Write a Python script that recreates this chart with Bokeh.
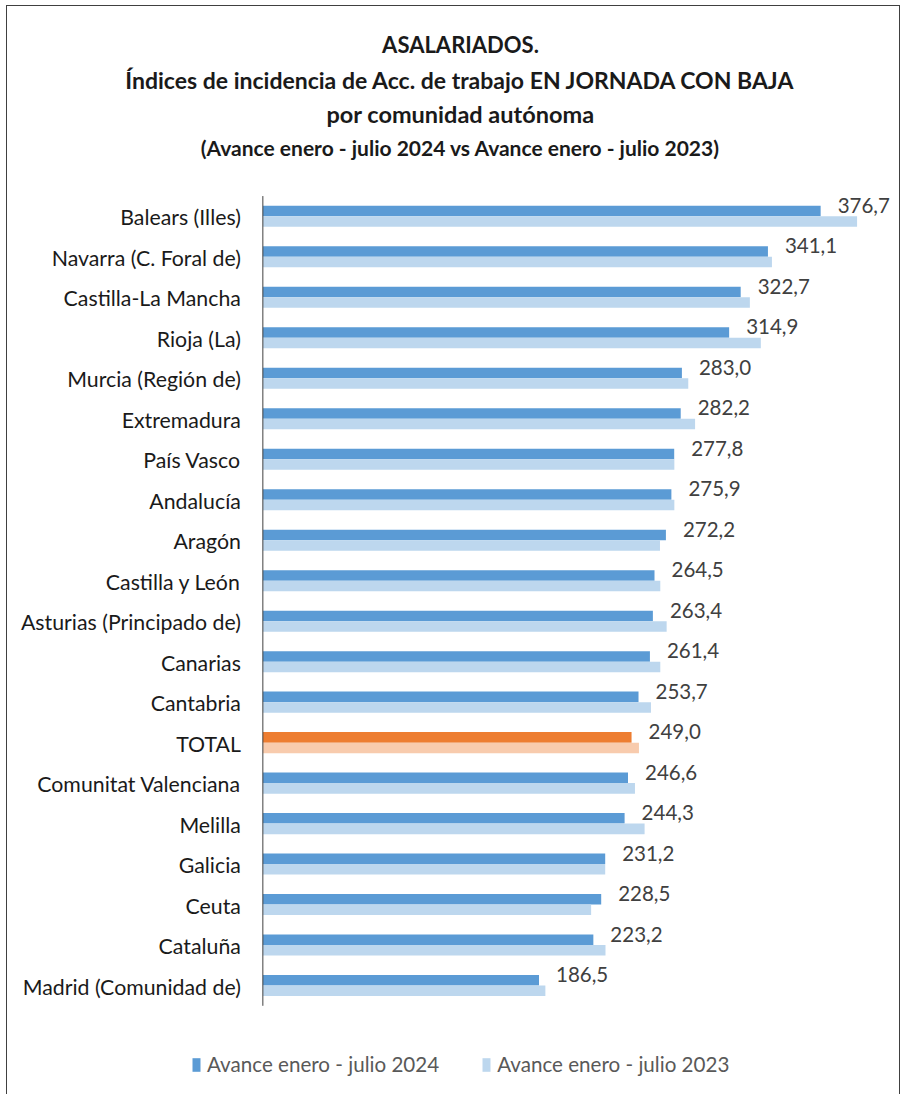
from bokeh.plotting import figure
from bokeh.models import Range1d, ColumnDataSource, Legend, LegendItem, Title
from bokeh.transform import dodge
from bokeh.core.properties import value
from bokeh.embed import file_html
from bokeh.resources import INLINE

categories = ["Balears (Illes)", "Navarra (C. Foral de)", "Castilla-La Mancha", "Rioja (La)",
              "Murcia (Región de)", "Extremadura", "País Vasco", "Andalucía", "Aragón",
              "Castilla y León", "Asturias (Principado de)", "Canarias", "Cantabria", "TOTAL",
              "Comunitat Valenciana", "Melilla", "Galicia", "Ceuta", "Cataluña",
              "Madrid (Comunidad de)"]
v2024 = [376.7, 341.1, 322.7, 314.9, 283.0, 282.2, 277.8, 275.9, 272.2, 264.5,
         263.4, 261.4, 253.7, 249.0, 246.6, 244.3, 231.2, 228.5, 223.2, 186.5]
v2023 = [401.3, 343.8, 328.9, 336.3, 287.3, 291.9, 277.9, 277.9, 268.2, 268.4,
         272.7, 268.4, 262.1, 254.0, 251.3, 257.8, 231.2, 221.7, 231.4, 190.8]
series_names = ["Avance enero - julio 2024", "Avance enero - julio 2023"]
title_lines = ["ASALARIADOS.",
               "Índices de incidencia de Acc. de trabajo EN JORNADA CON BAJA",
               "por comunidad autónoma",
               "(Avance enero - julio 2024 vs Avance enero - julio 2023)"]

FONT = "Lato"
C24, C23 = "#5B9BD5", "#BDD7EE"
T24, T23 = "#ED7D31", "#F8CBAD"

n = len(categories)
ypos = [n - 1 - i for i in range(n)]
src = ColumnDataSource(dict(
    cat=categories, y=ypos, v24=v2024, v23=v2023,
    c24=[T24 if c == "TOTAL" else C24 for c in categories],
    c23=[T23 if c == "TOTAL" else C23 for c in categories],
    lab=[f"{v:.1f}".replace(".", ",") for v in v2024],
))

p = figure(width=894, height=1092, output_backend="svg", toolbar_location=None,
           x_range=Range1d(-164.34, 431.3), y_range=Range1d(-2.790, 20.329),
           min_border_left=12, min_border_right=0, min_border_top=156, min_border_bottom=0)
p.styles = {"border": "1px solid #404040", "margin-left": "6px", "margin-top": "5px"}

r24 = p.hbar(y=dodge("y", 0.13), right="v24", left=0, height=0.26,
             fill_color="c24", line_color=None, source=src)
r23 = p.hbar(y=dodge("y", -0.13), right="v23", left=0, height=0.26,
             fill_color="c23", line_color=None, source=src)
p.text(x="v24", y=dodge("y", 0.27), text="lab", source=src,
       x_offset=17, text_align="left", text_baseline="middle",
       text_font=value(FONT), text_font_size="20.5px", text_color="#404040")
# category labels and category axis line
p.text(x=0, y="y", text="cat", source=src, x_offset=-22, y_offset=1,
       text_align="right", text_baseline="middle",
       text_font=value(FONT), text_font_size="21.3px", text_color="#1a1a1a")
p.segment(x0=[0], x1=[0], y0=[min(ypos) - 0.5], y1=[max(ypos) + 0.5],
          line_color="#404040", line_width=1)

p.xaxis.visible = False
p.yaxis.visible = False
p.xgrid.visible = False
p.ygrid.visible = False
p.outline_line_color = None

sizes = ["22px", "23px", "23.5px", "21px"]
standoffs = [8, 3.5, 4, 6]
for line, sz, so in reversed(list(zip(title_lines, sizes, standoffs))):
    p.add_layout(Title(text=line, align="center", text_font=FONT, text_font_size=sz,
                       text_font_style="bold", text_color="#1a1a1a", standoff=so), "above")

legend = Legend(items=[LegendItem(label=series_names[0], renderers=[r24], index=0),
                       LegendItem(label=series_names[1], renderers=[r23], index=1)],
                orientation="horizontal", location=(172, 22),
                label_text_font=FONT, label_text_font_size="20.6px", label_text_color="#595959",
                glyph_width=10, glyph_height=17, label_standoff=6, spacing=42,
                border_line_color=None, background_fill_alpha=0, margin=0, padding=0)
p.add_layout(legend, "center")

open("out.html", "w").write(file_html(p, INLINE))
